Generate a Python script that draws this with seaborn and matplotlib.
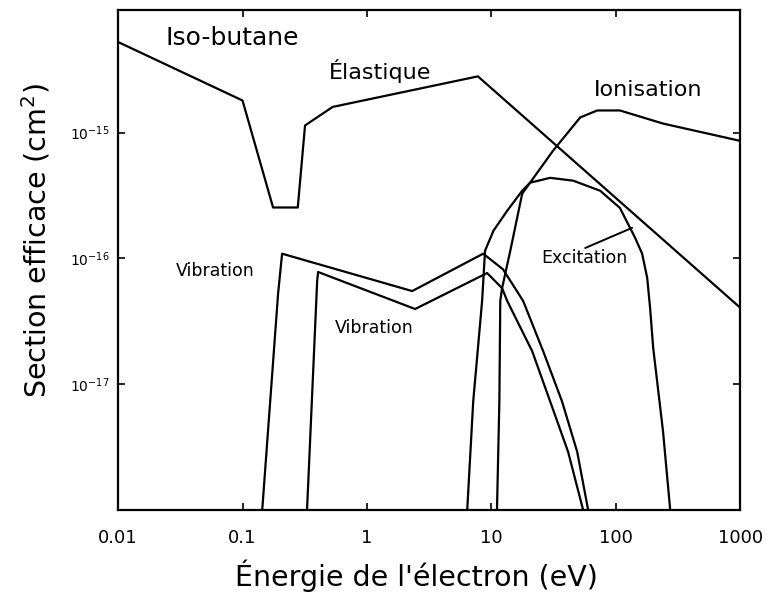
import matplotlib
matplotlib.use("Agg")
import matplotlib.pyplot as plt
import seaborn as sns
import pandas as pd

# ---- data ----
elastic_e = [0.01, 0.1, 0.176, 0.278, 0.318, 0.53, 7.8, 1000]
elastic_s = [5.25e-15, 1.8e-15, 2.54e-16, 2.54e-16, 1.14e-15, 1.6e-15, 2.8e-15, 4.06e-17]

vib1_e = [0.144, 0.193, 0.208, 2.31, 8.6, 12.4, 18.0, 26.1, 37.0, 49.0, 60.0]
vib1_s = [1e-18, 5.2e-17, 1.09e-16, 5.5e-17, 1.09e-16, 8.2e-17, 4.6e-17, 1.83e-17, 7.3e-18, 2.9e-18, 1e-18]

vib2_e = [0.33, 0.398, 0.405, 2.44, 9.25, 12.2, 13.4, 21.3, 29.7, 41.4, 54.7]
vib2_s = [1e-18, 6.6e-17, 7.8e-17, 3.96e-17, 7.65e-17, 5.8e-17, 4.6e-17, 1.83e-17, 7.3e-18, 2.9e-18, 1e-18]

excit_e = [6.4, 7.15, 8.43, 8.9, 10.4, 13.4, 17.7, 20.5, 29.7, 45.5, 75, 108, 143, 163, 179, 189, 200, 240, 274]
excit_s = [1e-18, 7.3e-18, 4.6e-17, 1.15e-16, 1.66e-16, 2.39e-16, 3.45e-16, 4.0e-16, 4.37e-16, 4.15e-16,
           3.45e-16, 2.52e-16, 1.46e-16, 1.09e-16, 7.0e-17, 4.0e-17, 1.94e-17, 4.2e-18, 1e-18]

ion_e = [11.1, 11.6, 11.8, 12.2, 14.2, 17.7, 31.4, 51.8, 71, 108, 240, 1000]
ion_s = [1e-18, 7.3e-18, 4.6e-17, 5.8e-17, 1.15e-16, 3.27e-16, 7.2e-16, 1.32e-15, 1.5e-15, 1.5e-15, 1.18e-15, 8.6e-16]

x_ticks = [0.01, 0.1, 1, 10, 100, 1000]
x_tick_labels = ["0.01", "0.1", "1", "10", "100", "1000"]
y_ticks = [1e-17, 1e-16, 1e-15]
y_tick_labels = [r"$10^{-17}$", r"$10^{-16}$", r"$10^{-15}$"]

sns.set_style("ticks")
plt.rcParams["font.family"] = ["DejaVu Sans"]
plt.rcParams["text.color"] = "black"
plt.rcParams["axes.labelcolor"] = "black"
plt.rcParams["xtick.color"] = "black"
plt.rcParams["ytick.color"] = "black"
plt.rcParams["axes.edgecolor"] = "black"

fig = plt.figure(figsize=(7.67, 6.0), dpi=100)
ax = fig.add_axes([0.154, 0.15, 0.811, 0.833])

series = [(elastic_e, elastic_s), (vib1_e, vib1_s), (vib2_e, vib2_s),
          (excit_e, excit_s), (ion_e, ion_s)]
for e, s in series:
    df = pd.DataFrame({"E": e, "S": s})
    sns.lineplot(data=df, x="E", y="S", ax=ax, color="black", linewidth=1.6,
                 sort=False, estimator=None)

ax.set_xscale("log")
ax.set_yscale("log")
ax.set_xlim(0.01, 1000)
ax.set_ylim(1e-18, 9.4e-15)
ax.set_xticks(x_ticks)
ax.set_xticklabels(x_tick_labels, fontsize=13)
ax.set_yticks(y_ticks)
ax.set_yticklabels(y_tick_labels, fontsize=10)
ax.minorticks_off()
ax.tick_params(direction="in", top=True, right=True, length=5, width=1.2)
ax.tick_params(axis="x", pad=14)
ax.tick_params(axis="y", pad=6)
for sp in ax.spines.values():
    sp.set_linewidth(1.6)

ax.set_xlabel("Énergie de l'électron (eV)", fontsize=20.5)
ax.set_ylabel("Section efficace (cm$^2$)", fontsize=20.5)
ax.xaxis.set_label_coords(0.48, -0.10)
ax.yaxis.set_label_coords(-0.105, 0.54)

ax.text(0.0826, 5.7e-15, "Iso-butane", fontsize=18, ha="center", va="center")
ax.text(1.28, 3.1e-15, "Élastique", fontsize=16, ha="center", va="center")
ax.text(182, 2.2e-15, "Ionisation", fontsize=16, ha="center", va="center")
ax.text(0.0608, 7.94e-17, "Vibration", fontsize=12.5, ha="center", va="center")
ax.text(1.15, 2.79e-17, "Vibration", fontsize=12.5, ha="center", va="center")
ax.text(56, 1.01e-16, "Excitation", fontsize=12.5, ha="center", va="center")
ax.plot([56.8, 135.5], [1.21e-16, 1.75e-16], color="black", linewidth=1.4)

fig.savefig("out.png", dpi=100)
